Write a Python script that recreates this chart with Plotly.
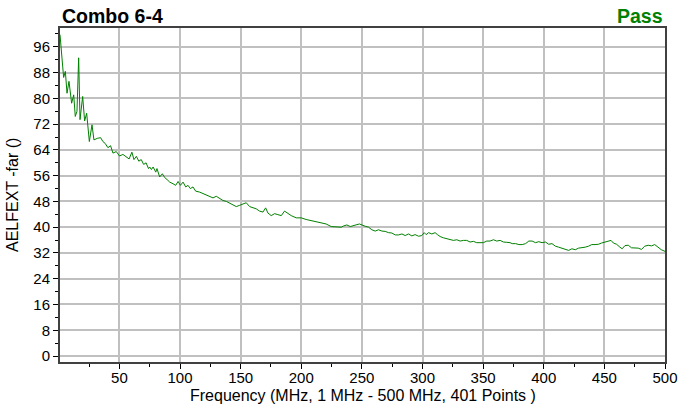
import plotly.graph_objects as go

# frequency (MHz) and AELFEXT values
freq = [1, 3.2, 4, 5.4, 6.8, 8.4, 10.6, 12.3, 13.6, 15, 16.4, 17.5, 19.7, 21.3, 23, 25.2,
        27.4, 29, 31.8, 34.5, 36.4, 38.3, 40.5, 42.7, 44.7, 47.4, 50.1, 52.9, 55.6, 58,
        60.3, 62, 64, 66, 68, 70, 72, 74, 75, 76.4, 77.8, 80, 81, 83.2, 85.4, 87.4, 89.3,
        91.5, 94.2, 96.4, 98.4, 100.3, 102.5, 104.7, 106.6, 108.5, 110.7, 112.9, 116.2,
        119, 121.7, 124.4, 127.2, 129.9, 132.7, 135.4, 138.2, 140.9, 143.7, 146.4, 149.2,
        151.9, 154.6, 157.4, 160.1, 162.9, 165.6, 168.4, 170.6, 172.5, 175.2, 178, 180.7,
        183.5, 186.2, 189, 191.7, 195.8, 200, 204, 208.2, 212.3, 216.4, 220.5, 224.7,
        228.8, 232.9, 235, 237.6, 240.4, 243, 245.9, 248, 250, 252.7, 255.5, 258.2, 261,
        263.7, 266.5, 269.2, 272, 274.7, 277.5, 280.2, 283, 285.7, 288.4, 291.2, 293.9,
        296.7, 299.4, 301.4, 303, 305, 307.7, 310.4, 312.3, 314.5, 317.3, 320, 322.8,
        325.5, 328.3, 331, 333.8, 336.5, 339.2, 342, 344.7, 347.5, 350.2, 353, 355.7,
        358.5, 361.2, 364, 366.7, 369.5, 372.2, 374, 376.8, 379.5, 382.2, 385, 387.7,
        390.4, 393.2, 395.9, 398.6, 401.4, 404.1, 406.8, 409.6, 412.3, 415, 417.8, 420.5,
        423.2, 426, 428.7, 431.4, 434.2, 436.9, 439.6, 442.3, 445.1, 447.8, 450.5, 453.3,
        455.5, 457.4, 460.1, 462.8, 464.7, 467, 469.7, 472.4, 475.1, 477.9, 480.6, 483.3,
        486.1, 488.8, 491.5, 494.3, 497, 500]
aelfext = [99.8, 91.5, 86.5, 88.4, 81.6, 85.3, 78.5, 81.1, 74.4, 76.0, 92.6, 73.4, 80.6,
           73.0, 75.4, 66.6, 71.8, 67.1, 67.6, 67.8, 66.6, 66.0, 64.7, 65.3, 63.0, 63.5,
           62.1, 62.6, 61.9, 61.2, 63.3, 61.0, 62.0, 60.5, 61.0, 59.5, 60.0, 58.2, 58.7,
           57.9, 58.7, 57.1, 58.2, 55.6, 56.6, 55.4, 54.8, 54.0, 53.5, 53.0, 54.2, 53.0,
           54.0, 52.5, 53.0, 52.0, 52.5, 51.2, 50.9, 50.4, 49.9, 49.6, 49.1, 49.6, 48.8,
           48.3, 48.0, 47.5, 47.0, 46.4, 46.8, 47.1, 47.6, 46.4, 46.0, 45.7, 45.0, 44.7,
           46.0, 44.4, 43.6, 44.2, 43.9, 43.6, 45.0, 44.2, 43.6, 42.9, 42.9, 42.4, 42.1,
           41.8, 41.4, 41.0, 40.2, 40.2, 40.0, 40.4, 40.7, 40.2, 40.6, 40.8, 41.0, 40.8,
           40.3, 40.0, 39.2, 38.8, 39.2, 38.8, 38.7, 38.3, 38.2, 37.6, 37.6, 37.9, 37.4,
           37.9, 37.3, 37.7, 37.2, 37.4, 38.3, 37.7, 38.3, 37.9, 38.3, 37.7, 37.1, 36.7,
           36.4, 36.2, 35.9, 36.1, 35.7, 35.9, 35.9, 35.4, 35.6, 35.2, 35.2, 35.2, 35.7,
           35.7, 36.1, 35.7, 35.9, 35.4, 35.3, 35.2, 34.9, 34.9, 34.6, 34.6, 34.9, 35.7,
           35.7, 35.2, 35.5, 35.2, 35.4, 34.7, 34.9, 34.1, 33.8, 33.5, 33.1, 32.8, 33.3,
           33.0, 33.5, 33.6, 33.8, 34.1, 34.6, 34.6, 34.7, 35.1, 35.4, 35.7, 35.9, 35.1,
           34.7, 33.8, 33.3, 34.3, 34.4, 33.6, 33.5, 33.5, 33.1, 34.1, 34.4, 34.2, 34.6,
           33.8, 33.0, 32.5]

y_ticks = [0, 8, 16, 24, 32, 40, 48, 56, 64, 72, 80, 88, 96]
x_ticks = [50, 100, 150, 200, 250, 300, 350, 400, 450, 500]

fig = go.Figure(go.Scatter(
    x=freq,
    y=aelfext,
    mode='lines',
    line=dict(color='#008000', width=1),
    showlegend=False,
))

fig.update_layout(
    width=695,
    height=408,
    margin=dict(l=60, r=30, t=28, b=46),
    paper_bgcolor='white',
    plot_bgcolor='white',
    font=dict(family='Liberation Sans, Arial, sans-serif', size=15, color='black'),
    annotations=[
        dict(text='<b>Combo 6-4</b>', x=0, y=1, xref='paper', yref='paper',
             xanchor='left', yanchor='bottom', yshift=-1, showarrow=False,
             font=dict(size=19.5, color='black')),
        dict(text='<b>Pass</b>', x=1, y=1, xref='paper', yref='paper',
             xanchor='right', yanchor='bottom', yshift=-1, showarrow=False,
             font=dict(size=19.5, color='#008000')),
        # axis titles placed by hand
        dict(text='Frequency (MHz, 1 MHz - 500 MHz, 401 Points )', x=0.5, y=0,
             xref='paper', yref='paper', xanchor='center', yanchor='middle',
             yshift=-33, showarrow=False, font=dict(size=16)),
        dict(text='AELFEXT -far ()', x=0, y=0.5, xref='paper', yref='paper',
             xanchor='center', yanchor='middle', xshift=-48, textangle=-90,
             showarrow=False, font=dict(size=16)),
    ],
)

fig.update_xaxes(
    range=[1, 500],
    tickvals=x_ticks,
    ticks='outside', ticklen=5, tickcolor='black', ticklabelstandoff=-4,
    minor=dict(dtick=25, tick0=0, ticks='outside', ticklen=3, tickcolor='black', showgrid=False),
    showgrid=True, gridcolor='#c0c0c0', gridwidth=2,
    showline=True, linecolor='#404040', linewidth=2, mirror=True,
    zeroline=False, automargin=False,
)
fig.update_yaxes(
    range=[-1.86, 101.86],
    tickvals=y_ticks,
    ticks='outside', ticklen=5, tickcolor='black',
    minor=dict(dtick=4, tick0=0, ticks='outside', ticklen=3, tickcolor='black', showgrid=False),
    showgrid=True, gridcolor='#c0c0c0', gridwidth=2,
    showline=True, linecolor='#404040', linewidth=2, mirror=True,
    zeroline=False, automargin=False,
)

# the page body has a default 8px margin; drop it so the chart fills the window
fig.write_html('out.html', config={'displayModeBar': False},
               post_script="document.body.style.margin='0px';")
